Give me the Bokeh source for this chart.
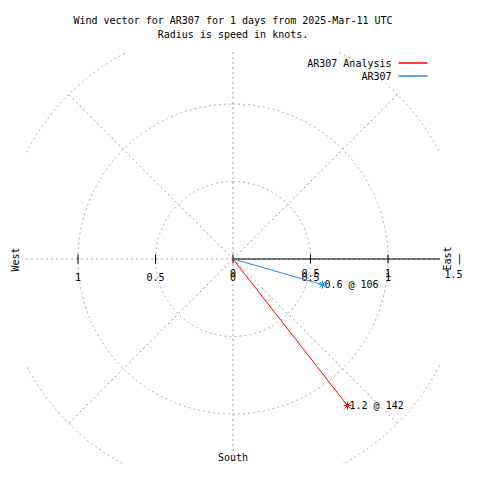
import numpy as np
from bokeh.plotting import figure
from bokeh.models import Range1d
from bokeh.core.properties import value
from bokeh.embed import file_html
from bokeh.resources import INLINE

# ---- data ----
series_names = ["AR307 Analysis", "AR307"]
series_colors = ["#ff0000", "#1e88f0"]
speeds_kt = [1.2, 0.6]
directions_deg = [142, 106]
ring_radii = [0.5, 1.0, 1.5]
spoke_angles = [0, 45, 90, 135, 180, 225, 270, 315]
left_tick_vals = [-1.0, -0.5, 0.0, 0.5, 1.0]
left_tick_text = ["1", "0.5", "0", "0.5", "1"]
right_tick_vals = [0.0, 0.5, 1.0]
right_tick_text = ["0", "0.5", "1"]
outer_tick_val = 1.5
outer_tick_text = "1.5"
title_lines = ["Wind vector for AR307 for 1 days from 2025-Mar-11 UTC",
               "Radius is speed in knots."]

# ---- layout helpers (picture pixel -> data) ----
W = H = 464
CX, CY = 232.5, 258.5
S = 155.0

def px(x):
    return (x - CX) / S

def py(y):
    return (CY - y) / S

FONT = value("DejaVu Sans Mono")
FS = "10px"
GRID = "#a0a0a0"
B = 1.335

p = figure(width=W, height=H,
           x_range=Range1d(px(0), px(W)),
           y_range=Range1d(py(H), py(0)),
           output_backend="svg", toolbar_location=None,
           x_axis_type=None, y_axis_type=None, min_border=0,
           outline_line_color=None, background_fill_color="white",
           border_fill_color="white")
p.grid.visible = False

# rings, clipped to plotting box
t = np.linspace(0, 2 * np.pi, 2881)
for r in ring_radii:
    gx = r * np.sin(t)
    gy = r * np.cos(t)
    m = (np.abs(gx) > B) | (np.abs(gy) > B)
    gx = gx.copy(); gy = gy.copy()
    gx[m] = np.nan; gy[m] = np.nan
    p.line(gx, gy, line_color=GRID, line_width=1, line_dash="2 3")

# spokes
sx1, sy1 = [], []
for a in spoke_angles:
    ar = np.radians(a)
    s, c = np.sin(ar), np.cos(ar)
    rmax = min(max(ring_radii), B / max(abs(s), abs(c)))
    sx1.append(rmax * s)
    sy1.append(rmax * c)
p.segment(x0=[0] * len(sx1), y0=[0] * len(sy1), x1=sx1, y1=sy1,
          line_color=GRID, line_width=1, line_dash="2 3")

# radial axis
p.line([0, B], [0, 0], line_color="black", line_width=1)
tl = 4.5 / S
p.segment(x0=left_tick_vals, y0=[-tl] * len(left_tick_vals),
          x1=left_tick_vals, y1=[tl] * len(left_tick_vals),
          line_color="black", line_width=1)

p.text(x=left_tick_vals, y=[0] * len(left_tick_vals), text=left_tick_text,
       y_offset=17.5, text_align="center", text_baseline="middle",
       text_font=FONT, text_font_size=FS, text_color="black")
p.text(x=right_tick_vals, y=[0] * len(right_tick_vals), text=right_tick_text,
       y_offset=14, text_align="center", text_baseline="middle",
       text_font=FONT, text_font_size=FS, text_color="black")
# outer ring label sits at the canvas edge
p.text(x=[outer_tick_val], y=[0], text=[outer_tick_text],
       x_offset=-3, y_offset=15, text_align="right", text_baseline="middle",
       text_font=FONT, text_font_size=FS, text_color="black")
p.text(x=[outer_tick_val], y=[0], text=["|"],
       x_offset=-3, y_offset=-1, text_align="right", text_baseline="middle",
       text_font=FONT, text_font_size=FS, text_color="black")

# compass labels
p.text(x=[px(15)], y=[py(259)], text=["West"], angle=np.pi / 2,
       text_align="center", text_baseline="middle",
       text_font=FONT, text_font_size=FS, text_color="black")
p.text(x=[px(447)], y=[py(258)], text=["East"], angle=np.pi / 2,
       text_align="center", text_baseline="middle",
       text_font=FONT, text_font_size=FS, text_color="black")
p.text(x=[0], y=[py(457)], text=["South"],
       text_align="center", text_baseline="middle",
       text_font=FONT, text_font_size=FS, text_color="black")

# titles
p.text(x=[0, 0], y=[py(20), py(33.5)], text=title_lines,
       text_align="center", text_baseline="middle",
       text_font=FONT, text_font_size=FS, text_color="black")

# vectors
vx = [s * np.sin(np.radians(d)) for s, d in zip(speeds_kt, directions_deg)]
vy = [s * np.cos(np.radians(d)) for s, d in zip(speeds_kt, directions_deg)]
for x, y, col in zip(vx, vy, series_colors):
    p.line([0, x], [0, y], line_color=col, line_width=1)
vlabels = [f"{s} @ {d}" for s, d in zip(speeds_kt, directions_deg)]
p.text(x=vx, y=vy, text=vlabels, x_offset=2, text_align="left",
       text_baseline="middle", text_font=FONT, text_font_size=FS,
       text_color="black")
p.scatter(x=vx, y=vy, marker="asterisk", size=8, line_color=series_colors,
          line_width=1)

# legend
leg_y = [py(63), py(76)]
p.text(x=[px(391)] * 2, y=leg_y, text=series_names, text_align="right",
       text_baseline="middle", text_font=FONT, text_font_size=FS,
       text_color="black")
p.segment(x0=[px(398)] * 2, y0=[py(62.5), py(75.5)],
          x1=[px(427)] * 2, y1=[py(62.5), py(75.5)],
          line_color=series_colors, line_width=1.5)

open("out.html", "w").write(file_html(p, INLINE))
